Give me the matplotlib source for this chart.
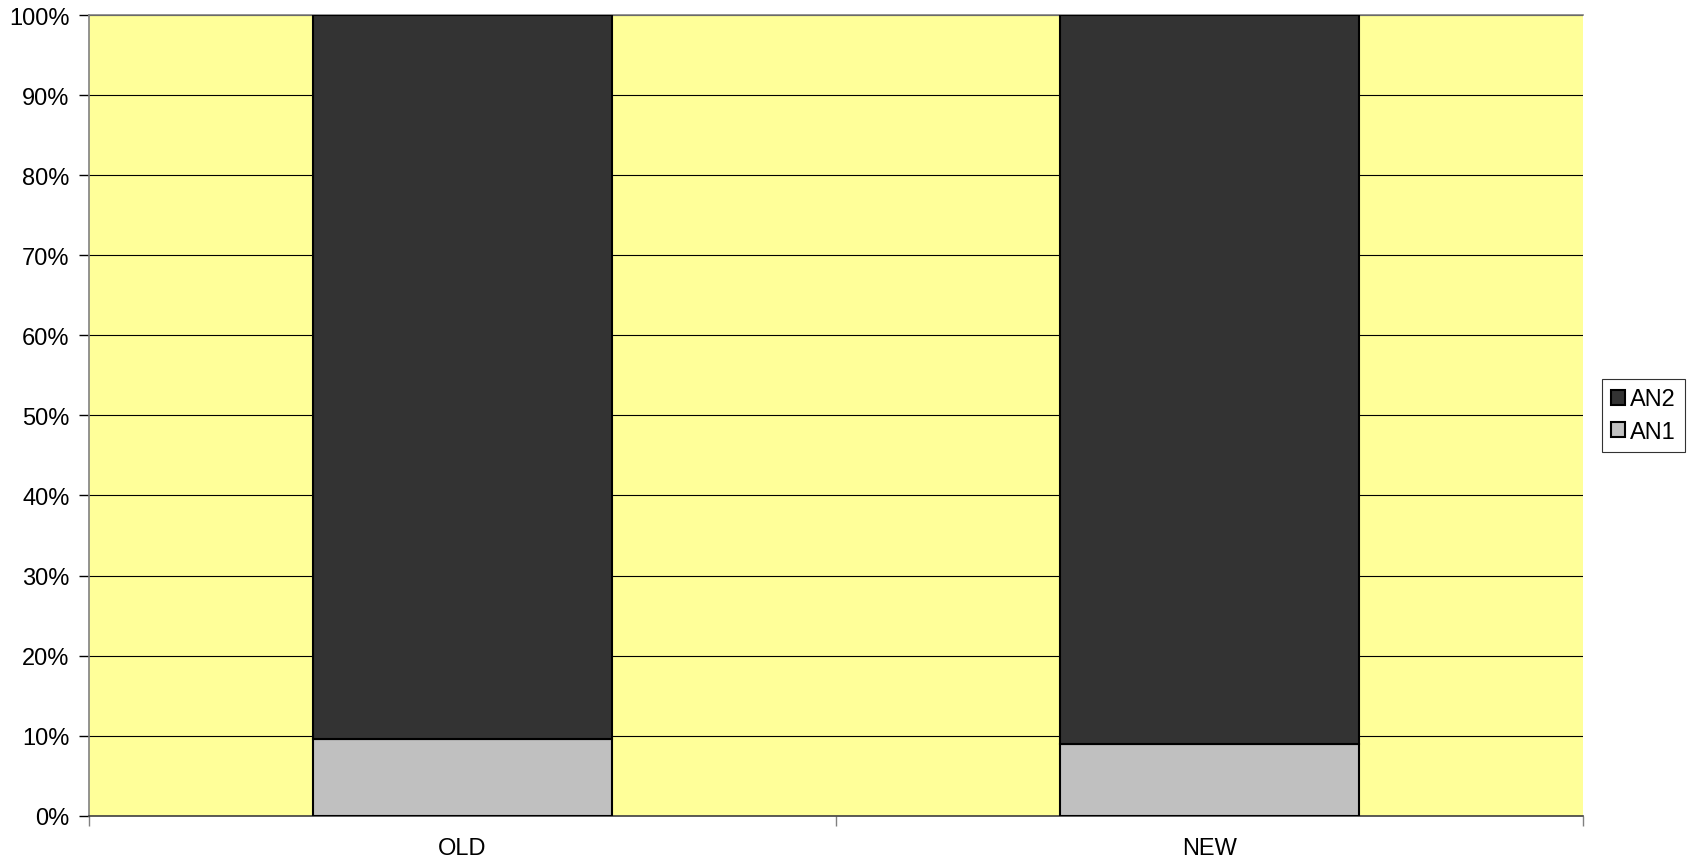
import matplotlib
matplotlib.use("Agg")
import matplotlib.pyplot as plt
from matplotlib.ticker import PercentFormatter, FixedLocator

groups = ["OLD", "NEW"]
an1 = [9.6, 9.0]
an2 = [90.4, 91.0]

plt.rcParams["font.family"] = ["Liberation Sans", "DejaVu Sans"]

fig = plt.figure(figsize=(16.96, 8.62), dpi=100)
ax = fig.add_axes([0.0525, 0.0525, 0.8809, 0.9289])
ax.set_facecolor("#FFFF99")

x = range(len(groups))
ax.bar(x, an1, width=0.4, color="#C0C0C0", edgecolor="black", linewidth=1.5, zorder=3, label="AN1")
ax.bar(x, an2, bottom=an1, width=0.4, color="#333333", edgecolor="black", linewidth=1.5, zorder=3, label="AN2")

ax.set_xlim(-0.5, len(groups) - 0.5)
ax.set_ylim(0, 100)
ax.yaxis.set_major_locator(FixedLocator(range(0, 101, 10)))
ax.yaxis.set_major_formatter(PercentFormatter(decimals=0))
ax.grid(axis="y", color="black", linewidth=0.8, zorder=1)

# category labels without ticks, tick marks on the category boundaries
ax.set_xticks([-0.5, 0.5, 1.5])
ax.set_xticklabels([])
ax.tick_params(axis="x", length=7, color="#808080", width=1)
for i, g in enumerate(groups):
    ax.text(i, -2.7, g, ha="center", va="top", fontsize=17, transform=ax.transData)
ax.tick_params(axis="y", length=7, color="black", width=1, labelsize=17, pad=7)

for side in ["left", "top", "right", "bottom"]:
    ax.spines[side].set_color("#808080")
    ax.spines[side].set_linewidth(1.2)
ax.spines["right"].set_visible(False)
ax.spines["bottom"].set_color("#404040")

handles, labels = ax.get_legend_handles_labels()
leg = fig.legend(handles[::-1], labels[::-1], loc="center left", bbox_to_anchor=(0.9445, 0.5166),
                 fontsize=17, frameon=True, fancybox=False, edgecolor="black",
                 handlelength=0.6, handleheight=0.6, handletextpad=0.2,
                 borderpad=0.4, labelspacing=0.45, borderaxespad=0)
leg.get_frame().set_linewidth(0.8)

fig.savefig("out.png", dpi=100)
